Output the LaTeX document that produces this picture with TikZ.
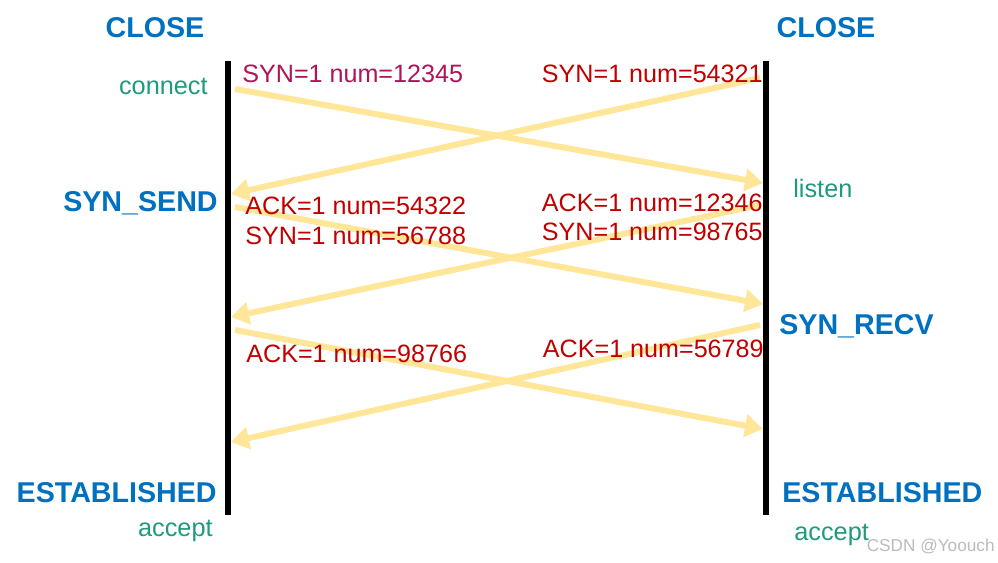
\documentclass[tikz,border=0pt]{standalone}
\usepackage{fontspec}
\setmainfont{Liberation Sans}
\usetikzlibrary{arrows.meta}
\definecolor{stateblue}{HTML}{0070C0}
\definecolor{callgreen}{HTML}{1F9A7E}
\definecolor{msgred}{HTML}{C00000}
\definecolor{msgpink}{HTML}{AE1457}
\definecolor{flowyellow}{HTML}{FFE699}
\definecolor{markgray}{HTML}{BBBBBB}

\begin{document}
\begin{tikzpicture}[x=0.02cm,y=-0.02cm,
        state/.style={font=\fontsize{16.3}{19}\selectfont\bfseries,text=stateblue,inner sep=0pt},
        call/.style={font=\fontsize{14.4}{17}\selectfont,text=callgreen,inner sep=0pt},
        msg/.style={font=\fontsize{14.3}{17}\selectfont,text=msgred,inner sep=0pt},
        flow/.style={draw=flowyellow,line width=0.12cm,-{Triangle[length=0.36cm,width=0.44cm]}},
        lifeline/.style={line width=0.12cm}]
        \useasboundingbox (0,0) rectangle (998,563);

        % ends of the two lifelines
        \coordinate (ctop) at (228,61);
        \coordinate (cbot) at (228,515);
        \coordinate (stop) at (766,61);
        \coordinate (sbot) at (766,515);

        % where the messages leave and arrive
        \coordinate (c1) at (235,89);  \coordinate (s1) at (763,183);
        \coordinate (s2) at (760,78);  \coordinate (c2) at (231,194);
        \coordinate (c3) at (235,207); \coordinate (s3) at (763,304);
        \coordinate (s4) at (760,205); \coordinate (c4) at (231,317);
        \coordinate (c5) at (235,330); \coordinate (s5) at (763,429);
        \coordinate (s6) at (760,325); \coordinate (c6) at (231,442);

        \draw[flow] (c1) -- (s1);
        \draw[flow] (s2) -- (c2);
        \draw[flow] (c3) -- (s3);
        \draw[flow] (s4) -- (c4);
        \draw[flow] (c5) -- (s5);
        \draw[flow] (s6) -- (c6);

        \draw[lifeline] (ctop) -- (cbot);
        \draw[lifeline] (stop) -- (sbot);

        % states
        \node[state,anchor=base] (cclose) at (155,38) {CLOSE};
        \node[state,anchor=base] (sclose) at (826,38) {CLOSE};
        \node[state,anchor=base east] (csend) at (218,212) {SYN\_SEND};
        \node[state,anchor=base west] (srecv) at (779,335) {SYN\_RECV};
        \node[state,anchor=base east] (cest) at (217,503) {ESTABLISHED};
        \node[state,anchor=base west] (sest) at (782,503) {ESTABLISHED};

        % calls
        \node[call,anchor=base east] (connect) at (208,95) {connect};
        \node[call,anchor=base west] (listen) at (793,198) {listen};
        \node[call,anchor=base east] (caccept) at (213,537) {accept};
        \node[call,anchor=base west] (saccept) at (794,541) {accept};

        % segments
        \node[msg,text=msgpink,anchor=base west] (m1) at (242,83) {SYN=1 num=12345};
        \node[msg,anchor=base east] (m2) at (763,83) {SYN=1 num=54321};
        \node[msg,anchor=base west] (m3a) at (245,215) {ACK=1 num=54322};
        \node[msg,anchor=base west] (m3b) at (245,245) {SYN=1 num=56788};
        \node[msg,anchor=base east] (m4a) at (763,212) {ACK=1 num=12346};
        \node[msg,anchor=base east] (m4b) at (763,241) {SYN=1 num=98765};
        \node[msg,anchor=base west] (m5) at (246,363) {ACK=1 num=98766};
        \node[msg,anchor=base east] (m6) at (764,358) {ACK=1 num=56789};

        \node[inner sep=0pt,anchor=base east,text=markgray,font=\fontsize{9.8}{11}\selectfont] (mark) at (995,552) {CSDN @Yoouch};
    \end{tikzpicture}
\end{document}
